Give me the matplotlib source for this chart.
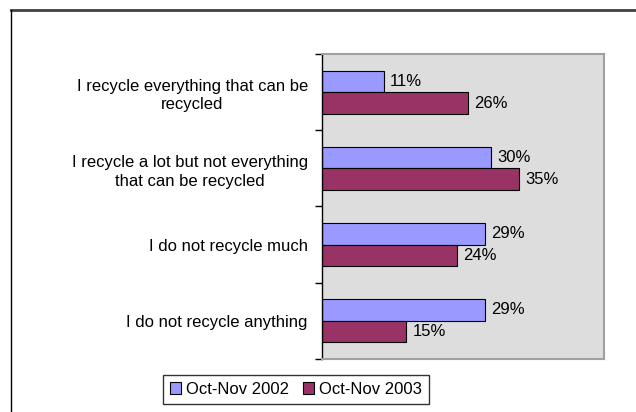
import numpy as np
import matplotlib.pyplot as plt
from matplotlib.lines import Line2D

plt.rcParams['font.family'] = ['Liberation Sans', 'DejaVu Sans']

categories = ["I recycle everything that can be\nrecycled",
              "I recycle a lot but not everything\nthat can be recycled",
              "I do not recycle much",
              "I do not recycle anything"]
y2002 = [11, 30, 29, 29]
y2003 = [26, 35, 24, 15]
series_names = ["Oct-Nov 2002", "Oct-Nov 2003"]

fs = 12
fig = plt.figure(figsize=(6.36, 4.12), dpi=100)
ax = fig.add_axes([0.5058, 0.1294, 0.9492 - 0.5058, 0.8682 - 0.1294])
ax.set_facecolor('#DDDDDD')

y = np.arange(len(categories))
h = 0.284
b1 = ax.barh(y - h/2, y2002, height=h, color='#9999FF', edgecolor='black', linewidth=0.8, label=series_names[0])
b2 = ax.barh(y + h/2, y2003, height=h, color='#993366', edgecolor='black', linewidth=0.8, label=series_names[1])

for bars, vals in [(b1, y2002), (b2, y2003)]:
    for rect, v in zip(bars, vals):
        ax.annotate(f"{v}%", (v, rect.get_y() + rect.get_height()/2),
                    xytext=(4.5, 0), textcoords='offset points',
                    va='center', ha='left', fontsize=fs)

ax.set_xlim(0, 50)
ax.set_ylim(len(categories) - 0.5, -0.5)
ax.set_xticks([])
ax.set_yticks(y)
ax.set_yticklabels(categories, fontsize=fs, multialignment='center', linespacing=1.3)
ax.tick_params(axis='y', which='major', length=0, pad=10)
ax.set_yticks(np.arange(-0.5, len(categories)), minor=True)
ax.tick_params(axis='y', which='minor', length=5, width=1, direction='out')

ax.spines['left'].set_color('black')
ax.spines['left'].set_linewidth(1)
for s in ['top', 'right', 'bottom']:
    ax.spines[s].set_color('#A0A0A0')
    ax.spines[s].set_linewidth(1.5)

# outer chart frame (cropped at right and bottom)
fig.add_artist(Line2D([11/636, 1], [1 - 10/412, 1 - 10/412], color='#404040', lw=2))
fig.add_artist(Line2D([11/636, 11/636], [0, 1 - 10/412], color='black', lw=1))

leg = fig.legend(handles=[b1, b2], loc='center', bbox_to_anchor=(0.4654, 0.0546),
                 ncol=2, fontsize=fs, frameon=True, fancybox=False,
                 edgecolor='black', handlelength=0.7, handleheight=0.7,
                 handletextpad=0.3, columnspacing=0.8, borderpad=0.42)
leg.get_frame().set_linewidth(1)

fig.savefig('out.png', dpi=100)
